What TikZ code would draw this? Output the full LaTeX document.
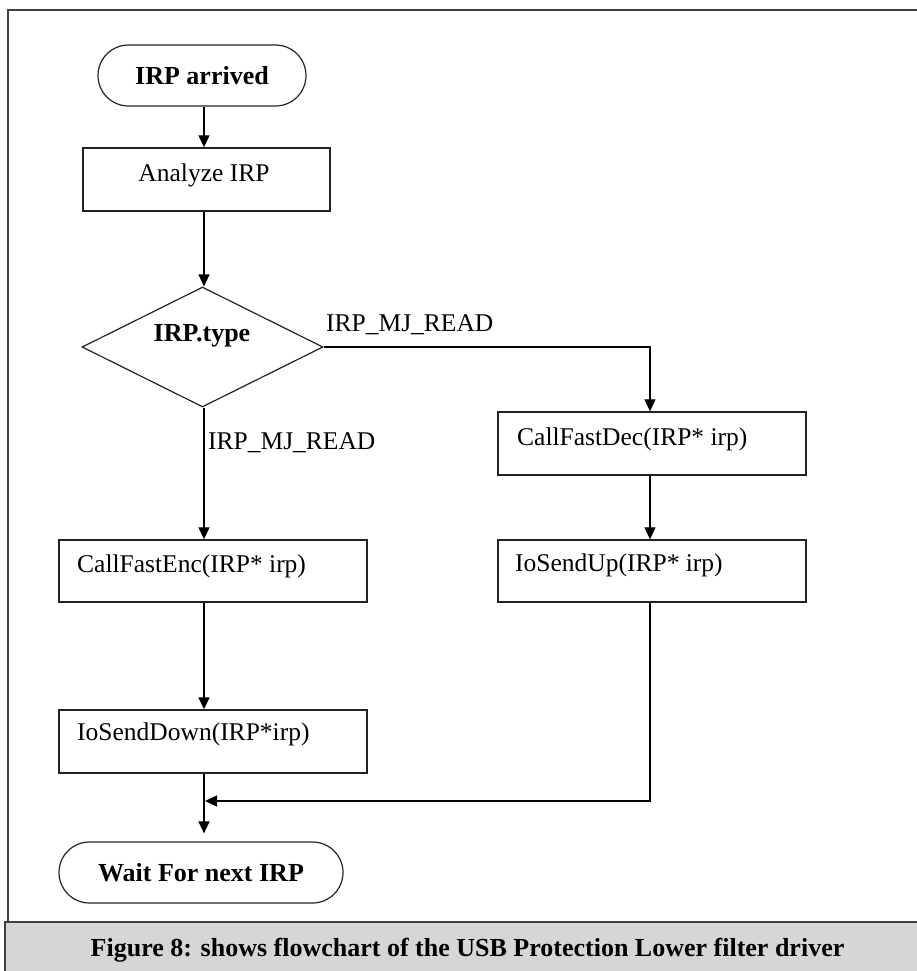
\documentclass[tikz,border=0pt]{standalone}
\usepackage{fontspec}
\setmainfont{Liberation Serif}
\usetikzlibrary{arrows.meta,shapes.geometric,shapes.misc}
\definecolor{framegray}{HTML}{404040}
\definecolor{capgray}{HTML}{D6D6D6}
\definecolor{inkgray}{HTML}{222222}
\begin{document}
\begin{tikzpicture}[x=1pt,y=-1pt,
  every node/.style={font=\fontsize{25.5}{30}\selectfont},
  boxnode/.style={draw=inkgray, line width=1.4pt, rectangle, inner sep=0pt},
  termnode/.style={draw=inkgray, line width=1.2pt, rounded rectangle, inner sep=0pt,
    font=\fontsize{26}{30}\selectfont\bfseries},
  decnode/.style={draw=inkgray, line width=1.2pt, diamond, inner sep=0pt},
  txt/.style={inner sep=0pt},
  btxt/.style={inner sep=0pt, font=\fontsize{26}{30}\selectfont\bfseries},
  conn/.style={draw=black, line width=1.3pt},
  arr/.style={conn, -{Triangle[length=12pt,width=11pt]}}
]
\useasboundingbox (0,0) rectangle (917,971);

% outer frame (runs off the right edge)
\draw[framegray, line width=2pt] (8,975) -- (8,10) -- (925,10);

% caption bar
\fill[capgray] (5,922) rectangle (925,975);
\draw[framegray, line width=2pt] (5,975) -- (5,922) -- (925,922);
\node[btxt] (caption) at (467.5,950) {Figure 8: shows flowchart of the USB Protection Lower filter driver};

% trunk lines
\coordinate (trunk) at (204,0);
\coordinate (rtrunk) at (650,0);
\coordinate (merge) at (205,801);

% nodes
\node[termnode, minimum width=208pt, minimum height=61pt] (start) at (202,75.5) {IRP arrived};
\node[boxnode, minimum width=247pt, minimum height=63pt] (analyze) at (206.5,179.5) {};
\node[txt] (analyzetxt) at (204,175) {Analyze IRP};

\node[decnode, minimum width=241pt, minimum height=120pt] (type) at (202.5,347) {};
\node[btxt] (typetxt) at (202,336) {IRP.type};

\node[boxnode, minimum width=308pt, minimum height=63pt] (dec) at (652,443.5) {};
\node[txt, anchor=west] (dectxt) at (517,439) {CallFastDec(IRP* irp)};

\node[boxnode, minimum width=308pt, minimum height=62pt] (up) at (652,571) {};
\node[txt, anchor=west] (uptxt) at (515,565) {IoSendUp(IRP* irp)};

\node[boxnode, minimum width=308pt, minimum height=62pt] (enc) at (213,571) {};
\node[txt, anchor=west] (enctxt) at (77,566) {CallFastEnc(IRP* irp)};

\node[boxnode, minimum width=308pt, minimum height=63pt] (down) at (213,741.5) {};
\node[txt, anchor=west] (downtxt) at (77,734) {IoSendDown(IRP*irp)};

\node[termnode, minimum width=284pt, minimum height=61pt] (stop) at (201,872.5) {Wait For next IRP};

% branch labels
\node[txt, anchor=west] (lblright) at (326,325) {IRP\_MJ\_READ};
\node[txt, anchor=west] (lbldown) at (208,443) {IRP\_MJ\_READ};

% connectors
\draw[arr] (trunk |- start.south) -- (trunk |- analyze.north);
\draw[arr] (trunk |- analyze.south) -- (trunk |- type.north);
\draw[arr] (type.east) -| (rtrunk |- dec.north);
\draw[arr] (trunk |- type.south) -- (trunk |- enc.north);
\draw[arr] (rtrunk |- dec.south) -- (rtrunk |- up.north);
\draw[arr] (trunk |- enc.south) -- (trunk |- down.north);
\draw[arr] (rtrunk |- up.south) -- (rtrunk |- merge) -- (merge);
\draw[arr, shorten >=8pt] (trunk |- down.south) -- (trunk |- stop.north);
\end{tikzpicture}
\end{document}
